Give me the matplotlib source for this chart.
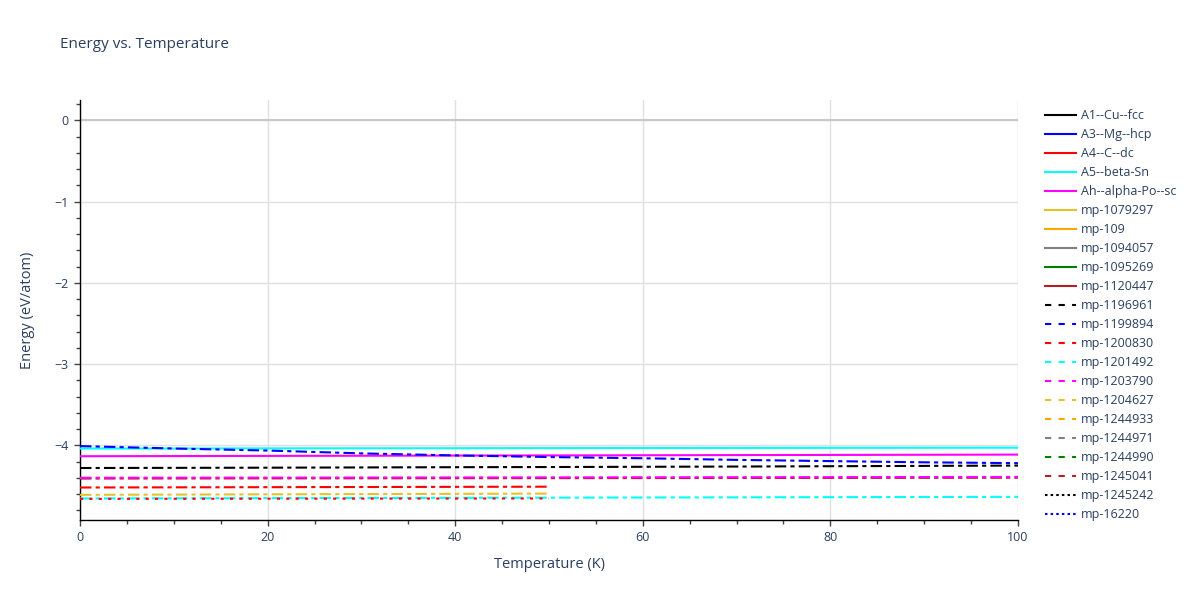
import matplotlib
matplotlib.use("Agg")
import matplotlib.pyplot as plt
from matplotlib.lines import Line2D
import numpy as np

plt.rcParams["font.family"] = ["Open Sans", "DejaVu Sans"]

# ---- data ----
t_long = [0, 10, 20, 30, 40, 50, 60, 70, 80, 90, 100]
t_short = [0, 10, 20, 30, 40, 50]

blue_dd = [-4.01, -4.04, -4.065, -4.10, -4.125, -4.145, -4.16, -4.18, -4.195, -4.21, -4.22]
cyan_solid = [-4.04, -4.04, -4.038, -4.037, -4.036, -4.035, -4.034, -4.033, -4.032, -4.031, -4.03]
magenta_solid = [-4.135, -4.133, -4.131, -4.129, -4.127, -4.125, -4.123, -4.121, -4.119, -4.117, -4.115]
black_dd = [-4.28, -4.278, -4.276, -4.273, -4.27, -4.268, -4.265, -4.262, -4.258, -4.254, -4.25]
magenta_dd = [-4.40, -4.399, -4.398, -4.397, -4.396, -4.395, -4.394, -4.393, -4.392, -4.391, -4.39]
brown_dd = [-4.41, -4.409, -4.408, -4.407, -4.406, -4.405, -4.404, -4.403, -4.402, -4.401, -4.40]
red_dd = [-4.52, -4.518, -4.516, -4.514, -4.512, -4.51]
gold_dd = [-4.61, -4.607, -4.604, -4.601, -4.598, -4.595]
cyan_dd = [-4.655, -4.653, -4.651, -4.649, -4.647, -4.645, -4.643, -4.641, -4.639, -4.637, -4.635]
red_dot = [-4.66, -4.659, -4.658, -4.657, -4.656, -4.655]

legend_labels = ["A1--Cu--fcc", "A3--Mg--hcp", "A4--C--dc", "A5--beta-Sn", "Ah--alpha-Po--sc",
                 "mp-1079297", "mp-109", "mp-1094057", "mp-1095269", "mp-1120447",
                 "mp-1196961", "mp-1199894", "mp-1200830", "mp-1201492", "mp-1203790",
                 "mp-1204627", "mp-1244933", "mp-1244971", "mp-1244990", "mp-1245041",
                 "mp-1245242", "mp-16220"]
legend_colors = ["black", "blue", "red", "cyan", "magenta", "#E6C229", "orange", "gray", "green", "#B22222",
                 "black", "blue", "red", "cyan", "magenta", "#E6C229", "orange", "gray", "green", "#B22222",
                 "black", "blue"]
legend_styles = ["solid"] * 10 + ["dash"] * 10 + ["dot"] * 2

TXT = "#2a3f5f"

# ---- figure ----
fig = plt.figure(figsize=(12, 6), dpi=100)
ax = fig.add_axes([80 / 1200, 80 / 600, 938 / 1200, 420 / 600])

lw = 1.5
dd = (5.5, 2.0, 2.0, 2.0)

ax.axhline(0, color="#c8c8c8", lw=1.5, zorder=1)
ax.plot(t_long, cyan_solid, color="cyan", lw=lw, zorder=3)
ax.plot(t_long, magenta_solid, color="magenta", lw=lw, zorder=3)
ax.plot(t_long, blue_dd, color="blue", lw=lw, dashes=dd, zorder=4)
ax.plot(t_long, black_dd, color="black", lw=lw, dashes=dd, zorder=4)
ax.plot(t_long, brown_dd, color="#B22222", lw=lw, dashes=dd, zorder=3)
ax.plot(t_long, magenta_dd, color="magenta", lw=lw, dashes=dd, zorder=4)
ax.plot(t_short, red_dd, color="red", lw=lw, dashes=dd, zorder=4)
ax.plot(t_short, gold_dd, color="#E6C229", lw=lw, dashes=dd, zorder=4)
ax.plot(t_long, cyan_dd, color="cyan", lw=lw, dashes=dd, zorder=3)
ax.plot(t_short, red_dot, color="red", lw=lw, dashes=(1.5, 3.0), zorder=4)

ax.set_xlim(0, 100)
ax.set_ylim(-4.92, 0.25)
ax.set_xticks([0, 20, 40, 60, 80, 100])
ax.set_yticks([0, -1, -2, -3, -4])
ax.set_yticklabels(["0", "\u22121", "\u22122", "\u22123", "\u22124"])
ax.set_xticks(np.arange(0, 101, 5), minor=True)
ax.set_yticks(np.arange(-4.8, 0.21, 0.2), minor=True)
ax.grid(True, which="major", color="#e0e0e0", lw=1, zorder=0)
ax.set_axisbelow(True)
for s in ["top", "right"]:
    ax.spines[s].set_visible(False)
for s in ["left", "bottom"]:
    ax.spines[s].set_color("black")
    ax.spines[s].set_linewidth(1)
ax.tick_params(axis="both", which="major", colors="#444444", labelcolor=TXT, labelsize=9, length=4, width=1, direction="out", pad=4)
ax.tick_params(axis="both", which="minor", colors="#444444", length=3, width=1, direction="out")
ax.set_xlabel("Temperature (K)", fontsize=10.5, color=TXT, labelpad=9)
ax.set_ylabel("Energy (eV/atom)", fontsize=10.5, color=TXT, labelpad=14)

fig.text(60 / 1200, 1 - 45 / 600, "Energy vs. Temperature", fontsize=11, color=TXT, va="center")

handles = []
for lab, c, st in zip(legend_labels, legend_colors, legend_styles):
    if st == "solid":
        h = Line2D([0], [0], color=c, lw=lw)
    elif st == "dash":
        h = Line2D([0], [0], color=c, lw=lw, dashes=(3.0, 3.5))
    else:
        h = Line2D([0], [0], color=c, lw=lw, dashes=(1.2, 1.5))
    handles.append(h)
leg = fig.legend(handles, legend_labels, loc="upper left",
                 bbox_to_anchor=(1040 / 1200, 1 - 104 / 600), frameon=False,
                 fontsize=9, handlelength=2.45, handletextpad=0.45, labelspacing=0.48,
                 borderaxespad=0)
for txt in leg.get_texts():
    txt.set_color(TXT)

fig.savefig("out.png", dpi=100)
